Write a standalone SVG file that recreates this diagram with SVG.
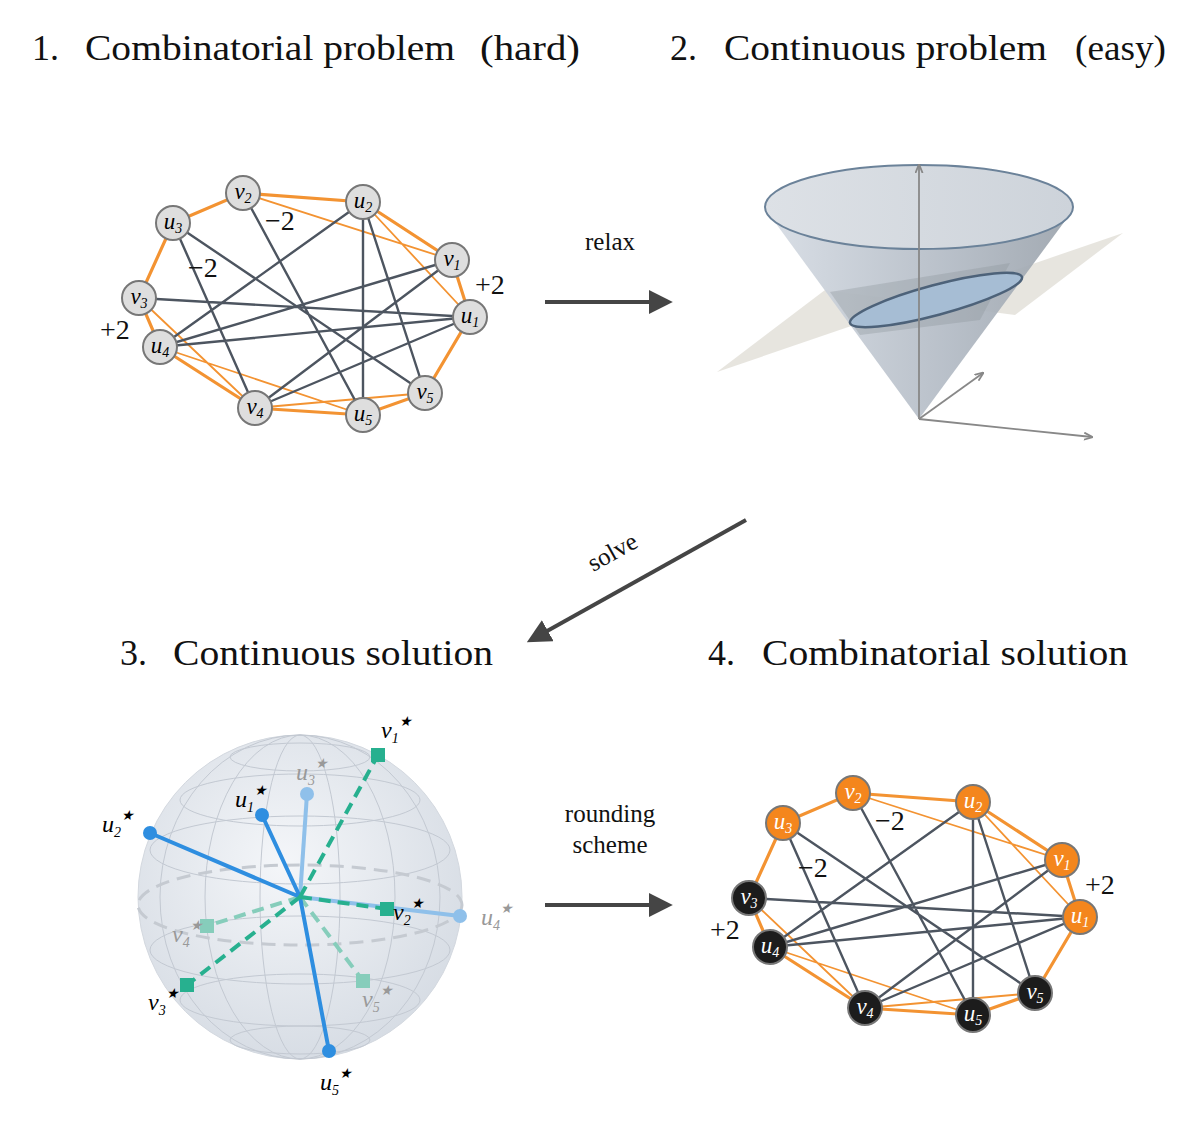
<svg xmlns="http://www.w3.org/2000/svg" width="1200" height="1136" viewBox="0 0 1200 1136">
<defs>
<style>
.t{font-family:"Liberation Serif","DejaVu Serif",serif;fill:#111}
.title{font-size:36px}
.lab{font-size:28px}
.ni{font-family:"Liberation Serif",serif;font-style:italic;font-size:23px;text-anchor:middle}
.ring{stroke:#f39332;stroke-width:3.2;fill:none}
.thin{stroke:#f39332;stroke-width:1.8;fill:none}
.g{stroke:#4d5560;stroke-width:2.4;fill:none}
.n1{fill:#dedede;stroke:#777;stroke-width:2}
.no{fill:#f4861d;stroke:#777;stroke-width:2}
.nb{fill:#1c1c1c;stroke:#777;stroke-width:2}
.arr{stroke:#454545;stroke-width:4;fill:none}
</style>
<marker id="ah" viewBox="0 0 10 10" refX="8" refY="5" markerWidth="6" markerHeight="6" orient="auto"><path d="M0,0L10,5L0,10z" fill="#454545"/></marker>
<marker id="ax" viewBox="0 0 10 10" refX="9" refY="5" markerWidth="5" markerHeight="5" orient="auto"><path d="M0,1L10,5L0,9" fill="none" stroke="#888" stroke-width="2"/></marker>
<radialGradient id="sph" cx="0.45" cy="0.4" r="0.65"><stop offset="0" stop-color="#f4f6f9"/><stop offset="1" stop-color="#d5dbe3"/></radialGradient>
<linearGradient id="cone" x1="0" x2="1"><stop offset="0" stop-color="#d6dce4"/><stop offset="0.6" stop-color="#b2bac4"/><stop offset="1" stop-color="#9aa2ab"/></linearGradient>
<linearGradient id="top" x1="0" x2="1"><stop offset="0" stop-color="#dde1e6"/><stop offset="1" stop-color="#cdd3da"/></linearGradient>
<g id="edges">
<path class="ring" d="M243,193L363,202L452,260L470,317L425,393L363,415L255,408L160,347L139,298L173,223Z"/>
<path class="thin" d="M243,193L452,260M363,202L470,317M139,298L255,408M160,347L363,415M255,408L425,393"/>
<path class="g" d="M173,223L255,408M173,223L425,393M243,193L363,415M363,202L160,347M363,202L363,415M363,202L425,393M452,260L160,347M452,260L255,408M139,298L470,317M160,347L470,317M470,317L255,408"/>
</g>
</defs>
<rect width="1200" height="1136" fill="#fff"/>
<g class="t title">
<text x="32" y="60">1.</text><text x="85" y="60" textLength="370" lengthAdjust="spacingAndGlyphs">Combinatorial problem</text><text x="480" y="60" textLength="100" lengthAdjust="spacingAndGlyphs">(hard)</text>
<text x="670" y="60">2.</text><text x="724" y="60" textLength="323" lengthAdjust="spacingAndGlyphs">Continuous problem</text><text x="1075" y="60" textLength="91" lengthAdjust="spacingAndGlyphs">(easy)</text>
<text x="120" y="665">3.</text><text x="173" y="665" textLength="320" lengthAdjust="spacingAndGlyphs">Continuous solution</text>
<text x="708" y="665">4.</text><text x="762" y="665" textLength="366" lengthAdjust="spacingAndGlyphs">Combinatorial solution</text>
</g>

<g id="connectors">
<path class="arr" d="M545,302H668" marker-end="url(#ah)"/>
<path class="arr" d="M746,520L531,640" marker-end="url(#ah)"/>
<path class="arr" d="M545,905H668" marker-end="url(#ah)"/>
<text class="t" x="610" y="250" font-size="25" text-anchor="middle">relax</text>
<text class="t" x="613" y="560" font-size="25" text-anchor="middle" transform="rotate(-29 613 553)">solve</text>
<text class="t" x="610" y="822" font-size="25" text-anchor="middle">rounding</text>
<text class="t" x="610" y="853" font-size="25" text-anchor="middle">scheme</text>
</g>

<g id="graph1">
<use href="#edges"/>
<g class="ni">
<circle class="n1" cx="243" cy="193" r="17"/><text x="243" y="199">v<tspan font-size="14" dy="4">2</tspan></text>
<circle class="n1" cx="363" cy="202" r="17"/><text x="363" y="208">u<tspan font-size="14" dy="4">2</tspan></text>
<circle class="n1" cx="173" cy="223" r="17"/><text x="173" y="229">u<tspan font-size="14" dy="4">3</tspan></text>
<circle class="n1" cx="452" cy="260" r="17"/><text x="452" y="266">v<tspan font-size="14" dy="4">1</tspan></text>
<circle class="n1" cx="139" cy="298" r="17"/><text x="139" y="304">v<tspan font-size="14" dy="4">3</tspan></text>
<circle class="n1" cx="470" cy="317" r="17"/><text x="470" y="323">u<tspan font-size="14" dy="4">1</tspan></text>
<circle class="n1" cx="160" cy="347" r="17"/><text x="160" y="353">u<tspan font-size="14" dy="4">4</tspan></text>
<circle class="n1" cx="425" cy="393" r="17"/><text x="425" y="399">v<tspan font-size="14" dy="4">5</tspan></text>
<circle class="n1" cx="255" cy="408" r="17"/><text x="255" y="414">v<tspan font-size="14" dy="4">4</tspan></text>
<circle class="n1" cx="363" cy="415" r="17"/><text x="363" y="421">u<tspan font-size="14" dy="4">5</tspan></text>
</g>
<text class="t lab" x="265" y="230">−2</text>
<text class="t lab" x="188" y="277">−2</text>
<text class="t lab" x="475" y="294">+2</text>
<text class="t lab" x="100" y="339">+2</text>
</g>

<g id="graph4">
<use href="#edges" transform="translate(610,600)"/>
<g class="ni" fill="#fff">
<circle class="no" cx="853" cy="793" r="17"/><text x="853" y="799">v<tspan font-size="14" dy="4">2</tspan></text>
<circle class="no" cx="973" cy="802" r="17"/><text x="973" y="808">u<tspan font-size="14" dy="4">2</tspan></text>
<circle class="no" cx="783" cy="823" r="17"/><text x="783" y="829">u<tspan font-size="14" dy="4">3</tspan></text>
<circle class="no" cx="1062" cy="860" r="17"/><text x="1062" y="866">v<tspan font-size="14" dy="4">1</tspan></text>
<circle class="nb" cx="749" cy="898" r="17"/><text x="749" y="904">v<tspan font-size="14" dy="4">3</tspan></text>
<circle class="no" cx="1080" cy="917" r="17"/><text x="1080" y="923">u<tspan font-size="14" dy="4">1</tspan></text>
<circle class="nb" cx="770" cy="947" r="17"/><text x="770" y="953">u<tspan font-size="14" dy="4">4</tspan></text>
<circle class="nb" cx="1035" cy="993" r="17"/><text x="1035" y="999">v<tspan font-size="14" dy="4">5</tspan></text>
<circle class="nb" cx="865" cy="1008" r="17"/><text x="865" y="1014">v<tspan font-size="14" dy="4">4</tspan></text>
<circle class="nb" cx="973" cy="1015" r="17"/><text x="973" y="1021">u<tspan font-size="14" dy="4">5</tspan></text>
</g>
<text class="t lab" x="875" y="830">−2</text>
<text class="t lab" x="798" y="877">−2</text>
<text class="t lab" x="1085" y="894">+2</text>
<text class="t lab" x="710" y="939">+2</text>
</g>

<g id="cone">
<path d="M717,372L1123,233L1015,315L825,290Z" fill="#e4e2dc" opacity="0.9"/>
<path d="M766,210L919,419L1073,210Z" fill="url(#cone)" opacity="0.92"/>
<ellipse cx="919" cy="207" rx="154" ry="42" fill="url(#top)" stroke="#6b8299" stroke-width="2"/>
<path d="M830,292L1010,263L980,320L860,335Z" fill="#8c949c" opacity="0.35"/>
<ellipse cx="936" cy="300" rx="89" ry="15" transform="rotate(-15 936 300)" fill="#a6bdd4" stroke="#4d6279" stroke-width="2.5"/>
<g stroke="#888" stroke-width="1.8" fill="none">
<path d="M919,419V165" marker-end="url(#ax)"/>
<path d="M919,419L983,373" marker-end="url(#ax)"/>
<path d="M919,419L1092,437" marker-end="url(#ax)"/>
</g>
</g>

<g id="sphere">
<circle cx="300" cy="897" r="162" fill="url(#sph)" stroke="#d3d8df"/>
<g stroke="#c3c9d2" stroke-width="1" fill="none">
<ellipse cx="300" cy="757" rx="70" ry="14"/>
<ellipse cx="300" cy="800" rx="120" ry="26"/>
<ellipse cx="300" cy="850" rx="150" ry="34"/>
<ellipse cx="300" cy="950" rx="150" ry="34"/>
<ellipse cx="300" cy="1000" rx="120" ry="26"/>
<ellipse cx="300" cy="1040" rx="70" ry="14"/>
<ellipse cx="300" cy="897" rx="40" ry="162"/>
<ellipse cx="300" cy="897" rx="95" ry="162"/>
<ellipse cx="300" cy="897" rx="140" ry="162"/>
</g>
<ellipse cx="300" cy="905" rx="162" ry="40" fill="none" stroke="#c5cad1" stroke-width="3" stroke-dasharray="14 8"/>
<g stroke-linecap="butt">
<path d="M300,897L307,794" stroke="#8fc0ea" stroke-width="4"/>
<path d="M300,897L460,916" stroke="#8fc0ea" stroke-width="4"/>
<path d="M300,897L207,926" stroke="#86cdbb" stroke-width="4" stroke-dasharray="12 7"/>
<path d="M300,897L363,981" stroke="#86cdbb" stroke-width="4" stroke-dasharray="12 7"/>
<path d="M300,897L150,833M300,897L262,815M300,897L329,1051" stroke="#2e8ee0" stroke-width="4"/>
<path d="M300,897L378,755M300,897L387,909M300,897L187,985" stroke="#27b08f" stroke-width="4" stroke-dasharray="12 7"/>
</g>
<circle cx="307" cy="794" r="7" fill="#8fc0ea"/>
<circle cx="460" cy="916" r="7" fill="#8fc0ea"/>
<rect x="200" y="919" width="14" height="14" fill="#86cdbb"/>
<rect x="356" y="974" width="14" height="14" fill="#86cdbb"/>
<circle cx="150" cy="833" r="7" fill="#2e8ee0"/>
<circle cx="262" cy="815" r="7" fill="#2e8ee0"/>
<circle cx="329" cy="1051" r="7" fill="#2e8ee0"/>
<rect x="371" y="748" width="14" height="14" fill="#27b08f"/>
<rect x="380" y="902" width="14" height="14" fill="#27b08f"/>
<rect x="180" y="978" width="14" height="14" fill="#27b08f"/>
<g font-family="Liberation Serif,serif" font-style="italic" font-size="24">
<text x="381" y="738">v<tspan font-size="14" dy="5">1</tspan><tspan font-size="14" dy="-17">★</tspan></text>
<text x="296" y="780" fill="#999">u<tspan font-size="14" dy="5">3</tspan><tspan font-size="14" dy="-17">★</tspan></text>
<text x="235" y="807">u<tspan font-size="14" dy="5">1</tspan><tspan font-size="14" dy="-17">★</tspan></text>
<text x="102" y="832">u<tspan font-size="14" dy="5">2</tspan><tspan font-size="14" dy="-17">★</tspan></text>
<text x="393" y="920">v<tspan font-size="14" dy="5">2</tspan><tspan font-size="14" dy="-17">★</tspan></text>
<text x="481" y="925" fill="#999">u<tspan font-size="14" dy="5">4</tspan><tspan font-size="14" dy="-17">★</tspan></text>
<text x="172" y="942" fill="#999">v<tspan font-size="14" dy="5">4</tspan><tspan font-size="14" dy="-17">★</tspan></text>
<text x="148" y="1010">v<tspan font-size="14" dy="5">3</tspan><tspan font-size="14" dy="-17">★</tspan></text>
<text x="362" y="1007" fill="#999">v<tspan font-size="14" dy="5">5</tspan><tspan font-size="14" dy="-17">★</tspan></text>
<text x="320" y="1090">u<tspan font-size="14" dy="5">5</tspan><tspan font-size="14" dy="-17">★</tspan></text>
</g>
</g>
</svg>
